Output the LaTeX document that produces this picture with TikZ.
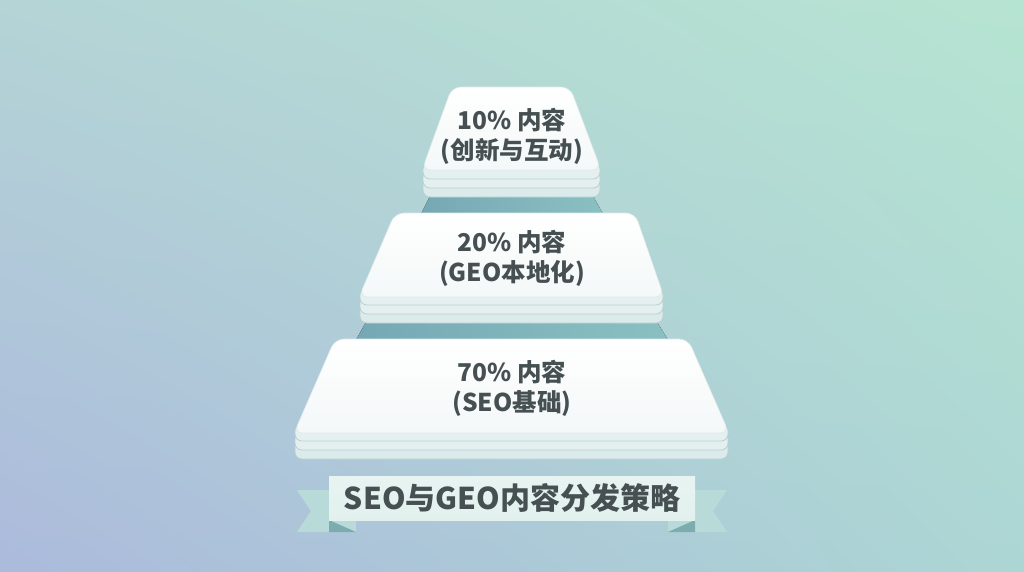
\documentclass[tikz,border=0pt]{standalone}
\usepackage{fontspec}
\setmainfont{Noto Sans CJK SC}
\usetikzlibrary{calc,shadings}
\definecolor{bgTL}{RGB}{180,212,214}
\definecolor{bgTR}{RGB}{182,228,210}
\definecolor{bgBL}{RGB}{172,186,220}
\definecolor{bgBR}{RGB}{172,214,212}
\definecolor{txt}{RGB}{70,80,82}
\definecolor{layerfill}{RGB}{228,240,239}
\definecolor{layerline}{RGB}{186,208,208}
\definecolor{gaptop}{RGB}{118,168,180}
\definecolor{gapbot}{RGB}{138,192,194}
\definecolor{bannerfill}{RGB}{226,241,238}
\definecolor{tailfill}{RGB}{184,219,217}
\definecolor{foldfill}{RGB}{124,172,174}
\tikzset{
  face/.style={rounded corners=9pt, top color=white, bottom color={rgb,255:red,244;green,248;blue,248}, draw={rgb,255:red,225;green,235;blue,235}, line width=0.6pt},
  slab/.style={rounded corners=7pt, fill=layerfill, draw=layerline, line width=0.8pt},
  gap/.style={left color=gaptop, right color=gapbot},
  tiertext/.style={font=\bfseries\fontsize{24.5}{30}\selectfont, text=txt, align=center, inner sep=0pt},
  titletext/.style={font=\bfseries\fontsize{30}{34}\selectfont, text=txt, inner sep=0pt}
}
\begin{document}
\begin{tikzpicture}[x=1pt,y=-1pt]
\useasboundingbox (0,0) rectangle (1024,571);
\shade[upper left=bgTL, upper right=bgTR, lower left=bgBL, lower right=bgBR] (0,0) rectangle (1024,571);
% gaps between tiers
\fill[gap] (430,196) -- (593,196) -- (603,214) -- (421,214) -- cycle;
\fill[gap] (366,322) -- (657,322) -- (668,340) -- (356,340) -- cycle;
% top tier
\draw[slab, fill=layerfill!92!gaptop] (423,178) rectangle (600,197);
\draw[slab] (423,170) rectangle (600,188);
\draw[slab] (423,162) rectangle (600,179);
\draw[face] (452,87) -- (570,87) -- (601,170) -- (422,170) -- cycle;
% middle tier
\draw[slab, fill=layerfill!92!gaptop] (360,304) rectangle (663,323);
\draw[slab] (360,296) rectangle (663,314);
\draw[slab] (360,288) rectangle (663,305);
\draw[face] (395,213) -- (635,213) -- (664,297) -- (359,297) -- cycle;
% bottom tier
\draw[slab, fill=layerfill!92!gaptop] (295,440) rectangle (728,459);
\draw[slab] (295,432) rectangle (728,450);
\draw[slab] (295,424) rectangle (728,441);
\draw[face] (335,339) -- (688,339) -- (729,433) -- (294,433) -- cycle;
% texts
\node[tiertext] (t1) at (512,136) {10\% 内容\\(创新与互动)};
\node[tiertext] (t2) at (512,258) {20\% 内容\\(GEO本地化)};
\node[tiertext] (t3) at (512,388) {70\% 内容\\(SEO基础)};
% ribbon
\fill[tailfill] (297,490) -- (356,490) -- (356,532) -- (297,532) -- (311,511) -- cycle;
\fill[tailfill] (727,490) -- (668,490) -- (668,532) -- (727,532) -- (713,511) -- cycle;
\fill[foldfill] (329,520) -- (356,532) -- (329,532) -- cycle;
\fill[foldfill] (695,520) -- (668,532) -- (695,532) -- cycle;
\shade[top color=bannerfill!80!white, bottom color=bannerfill] (329,476) rectangle (695,520);
\node[titletext] (title) at (512,498) {SEO与GEO内容分发策略};
\end{tikzpicture}
\end{document}
